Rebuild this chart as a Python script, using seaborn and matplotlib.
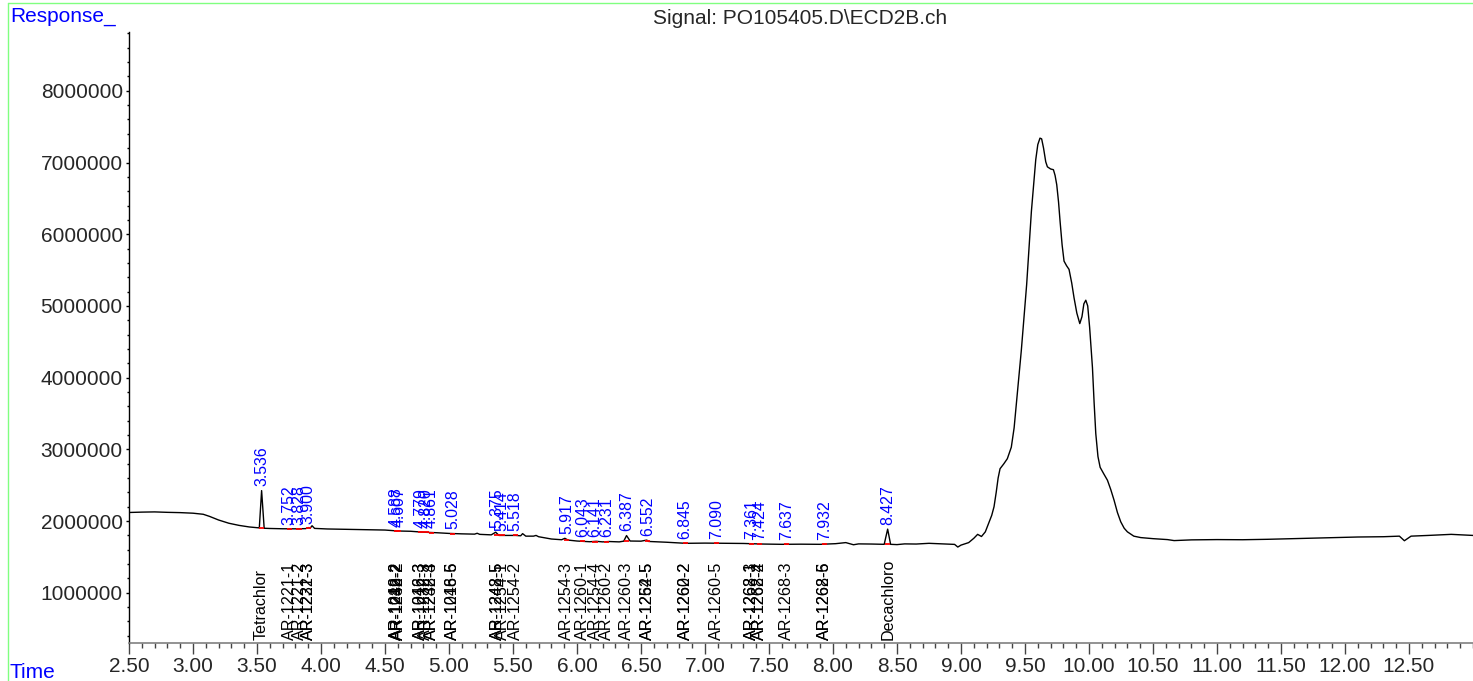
import matplotlib
matplotlib.use("Agg")
import matplotlib.pyplot as plt
import matplotlib.ticker as mticker
from matplotlib.lines import Line2D
import seaborn as sns
import pandas as pd

# Chromatogram trace: (time in min, response)
trace = [
    (2.50, 2120000), (2.60, 2125000), (2.70, 2128000), (2.80, 2122000), (2.90, 2118000),
    (3.00, 2110000), (3.08, 2095000), (3.13, 2065000), (3.20, 2015000), (3.28, 1970000),
    (3.36, 1940000), (3.44, 1918000), (3.518, 1905000), (3.536, 2425000), (3.556, 1900000),
    (3.60, 1897000), (3.70, 1893000), (3.80, 1892000), (3.88, 1895000), (3.905, 1910000),
    (3.915, 1900000), (3.93, 1935000), (3.95, 1898000), (4.05, 1890000), (4.20, 1885000),
    (4.35, 1880000), (4.50, 1875000), (4.60, 1862000), (4.70, 1858000), (4.80, 1845000),
    (4.90, 1838000), (5.00, 1828000), (5.10, 1822000), (5.20, 1818000), (5.22, 1830000),
    (5.24, 1815000), (5.33, 1808000), (5.365, 1845000), (5.39, 1800000), (5.45, 1800000),
    (5.52, 1800000), (5.56, 1795000), (5.575, 1825000), (5.60, 1790000), (5.66, 1790000),
    (5.68, 1800000), (5.70, 1782000), (5.80, 1750000), (5.88, 1740000), (5.905, 1760000),
    (5.93, 1735000), (6.00, 1722000), (6.10, 1712000), (6.15, 1718000), (6.20, 1710000),
    (6.25, 1715000), (6.33, 1710000), (6.365, 1720000), (6.387, 1798000), (6.415, 1722000),
    (6.50, 1720000), (6.545, 1735000), (6.56, 1716000), (6.70, 1705000), (6.85, 1690000),
    (7.00, 1693000), (7.15, 1690000), (7.30, 1688000), (7.45, 1680000), (7.60, 1676000),
    (7.75, 1678000), (7.90, 1676000), (8.02, 1685000), (8.10, 1700000), (8.16, 1670000),
    (8.20, 1682000), (8.30, 1680000), (8.40, 1676000), (8.427, 1888000), (8.45, 1676000),
    (8.50, 1672000), (8.56, 1682000), (8.65, 1680000), (8.75, 1690000), (8.85, 1682000),
    (8.95, 1675000), (8.975, 1638000), (9.00, 1665000), (9.06, 1700000), (9.10, 1760000),
    (9.13, 1815000), (9.16, 1785000), (9.19, 1850000), (9.22, 1990000), (9.24, 2080000),
    (9.258, 2200000), (9.275, 2400000), (9.29, 2600000), (9.305, 2730000), (9.335, 2800000),
    (9.362, 2870000), (9.393, 3030000), (9.415, 3300000), (9.435, 3680000), (9.471, 4375000),
    (9.513, 5300000), (9.550, 6320000), (9.570, 6750000), (9.584, 7040000), (9.600, 7250000),
    (9.617, 7340000), (9.630, 7330000), (9.645, 7200000), (9.662, 7010000), (9.675, 6940000),
    (9.700, 6910000), (9.722, 6900000), (9.735, 6820000), (9.748, 6690000), (9.762, 6450000),
    (9.774, 6180000), (9.790, 5850000), (9.805, 5625000), (9.825, 5560000), (9.844, 5510000),
    (9.865, 5320000), (9.883, 5115000), (9.905, 4900000), (9.928, 4754000), (9.945, 4850000),
    (9.960, 5030000), (9.975, 5080000), (9.990, 5000000), (10.005, 4700000), (10.027, 4140000),
    (10.040, 3650000), (10.053, 3220000), (10.070, 2900000), (10.087, 2750000),
    (10.115, 2660000), (10.144, 2570000), (10.170, 2440000), (10.196, 2290000),
    (10.222, 2120000), (10.248, 1990000), (10.275, 1900000), (10.30, 1850000),
    (10.35, 1790000), (10.404, 1770000), (10.50, 1755000), (10.613, 1742000),
    (10.665, 1728000), (10.80, 1738000), (11.00, 1742000), (11.20, 1740000),
    (11.395, 1746000), (11.60, 1755000), (11.80, 1765000), (11.916, 1770000),
    (12.10, 1778000), (12.30, 1782000), (12.425, 1790000), (12.464, 1726000),
    (12.516, 1790000), (12.65, 1800000), (12.83, 1815000), (13.00, 1800000),
]
trace_time = [t for t, _ in trace]
trace_resp = [r for _, r in trace]

# Integrated peaks: retention time, apex height and baseline height
peak_rt = [3.536, 3.752, 3.828, 3.900, 4.588, 4.607, 4.779, 4.820, 4.861, 5.028,
           5.375, 5.414, 5.518, 5.917, 6.043, 6.141, 6.231, 6.387, 6.552, 6.845,
           7.090, 7.361, 7.424, 7.637, 7.932, 8.427]
peak_top = [2425000, 1893000, 1892000, 1905000, 1863000, 1862000, 1848000, 1843000,
            1840000, 1826000, 1845000, 1800000, 1800000, 1760000, 1718000, 1718000,
            1714000, 1798000, 1735000, 1690000, 1692000, 1686000, 1682000, 1676000,
            1676000, 1888000]
peak_base = [1903000, 1893000, 1892000, 1897000, 1863000, 1861000, 1846000, 1842000,
             1839000, 1826000, 1805000, 1800000, 1800000, 1738000, 1718000, 1712000,
             1712000, 1716000, 1718000, 1690000, 1692000, 1686000, 1682000, 1676000,
             1676000, 1676000]

# Expected compound names at their retention times
compound_rt = [3.536, 3.752, 3.828, 3.900, 3.900, 4.588, 4.588, 4.607, 4.607, 4.779,
               4.779, 4.820, 4.861, 4.861, 5.028, 5.028, 5.375, 5.375, 5.414, 5.518,
               5.917, 6.043, 6.141, 6.231, 6.387, 6.552, 6.552, 6.845, 6.845, 7.090,
               7.361, 7.361, 7.424, 7.424, 7.637, 7.932, 7.932, 8.427]
compound_name = ["Tetrachlor", "AR-1221-1", "AR-1221-2", "AR-1232-3", "AR-1221-3",
                 "AR-1016-2", "AR-1242-2", "AR-1248-2", "AR-1232-2", "AR-1016-3",
                 "AR-1242-3", "AR-1232-3", "AR-1248-3", "AR-1232-4", "AR-1016-5",
                 "AR-1248-6", "AR-1242-5", "AR-1248-5", "AR-1254-1", "AR-1254-2",
                 "AR-1254-3", "AR-1260-1", "AR-1254-4", "AR-1260-2", "AR-1260-3",
                 "AR-1262-5", "AR-1254-5", "AR-1260-2", "AR-1262-2", "AR-1260-5",
                 "AR-1268-1", "AR-1262-3", "AR-1268-2", "AR-1262-4", "AR-1268-3",
                 "AR-1268-5", "AR-1262-6", "Decachloro"]

x_ticks = [2.5, 3.0, 3.5, 4.0, 4.5, 5.0, 5.5, 6.0, 6.5, 7.0, 7.5, 8.0, 8.5, 9.0,
           9.5, 10.0, 10.5, 11.0, 11.5, 12.0, 12.5]
y_ticks = [1000000, 2000000, 3000000, 4000000, 5000000, 6000000, 7000000, 8000000]

sns.set_style("white")
plt.rcParams["font.family"] = ["Liberation Sans", "DejaVu Sans"]

W, H = 1473, 681
fig = plt.figure(figsize=(W / 100, H / 100), dpi=100)
ax = fig.add_axes([129 / W, 38 / H, (W - 129) / W, (643 - 32) / H])

df = pd.DataFrame({"time": trace_time, "response": trace_resp})
sns.lineplot(data=df, x="time", y="response", ax=ax, color="black", lw=1.0,
             sort=False, estimator=None)

# integration baseline marks
ax.hlines(peak_base, [r - 0.02 for r in peak_rt], [r + 0.02 for r in peak_rt],
          color="red", lw=1.3, zorder=3)

# retention time labels (blue) above each peak
for rt, top in zip(peak_rt, peak_top):
    ax.annotate(f"{rt:.3f}", (rt, top), xytext=(0, 3), textcoords="offset points",
                rotation=90, ha="center", va="bottom", color="blue", fontsize=11.4)

# compound names (black) sitting on the time axis
for rt, name in zip(compound_rt, compound_name):
    ax.annotate(name, (rt, 0), xycoords=("data", "axes fraction"), xytext=(0, 2),
                textcoords="offset points", rotation=90, ha="center", va="bottom",
                color="black", fontsize=11.6)

ax.set_xlim(2.5, 13.0)
ax.set_ylim(300000, 8820000)
ax.set_xticks(x_ticks)
ax.set_yticks(y_ticks)
ax.xaxis.set_major_formatter(mticker.StrMethodFormatter("{x:.2f}"))
ax.yaxis.set_major_formatter(mticker.StrMethodFormatter("{x:.0f}"))
ax.xaxis.set_minor_locator(mticker.MultipleLocator(0.1))
ax.yaxis.set_minor_locator(mticker.MultipleLocator(200000))
ax.tick_params(axis="x", which="major", direction="out", length=8, width=1,
               color="#444444", labelsize=15, pad=2, bottom=True)
ax.tick_params(axis="x", which="minor", direction="out", length=3.8, width=1,
               color="#444444", bottom=True)
ax.tick_params(axis="y", which="major", direction="out", length=2.5, width=1,
               color="black", labelsize=15, pad=2, left=True)
ax.tick_params(axis="y", which="minor", direction="out", length=1.6, width=1,
               color="black", left=True)
ax.set_xlabel("")
ax.set_ylabel("")
for side in ["top", "right"]:
    ax.spines[side].set_visible(False)
ax.spines["left"].set_color("black")
ax.spines["left"].set_linewidth(1)
ax.spines["bottom"].set_color("#808080")
ax.spines["bottom"].set_linewidth(1.2)

fig.text(800.5 / W, 1 - 18 / H, "Signal: PO105405.D\\ECD2B.ch", ha="center",
         va="center", fontsize=15)
fig.text(10 / W, 1 - 17 / H, "Response_", ha="left", va="center", fontsize=15,
         color="blue")
fig.text(10 / W, 1 - 672 / H, "Time", ha="left", va="center", fontsize=15,
         color="blue")

# light green frame
fig.add_artist(Line2D([8 / W, 1], [1 - 3 / H, 1 - 3 / H], color="#80ff80", lw=1))
fig.add_artist(Line2D([8 / W, 8 / W], [0, 1 - 3 / H], color="#80ff80", lw=1))

fig.savefig("out.png", dpi=100)
